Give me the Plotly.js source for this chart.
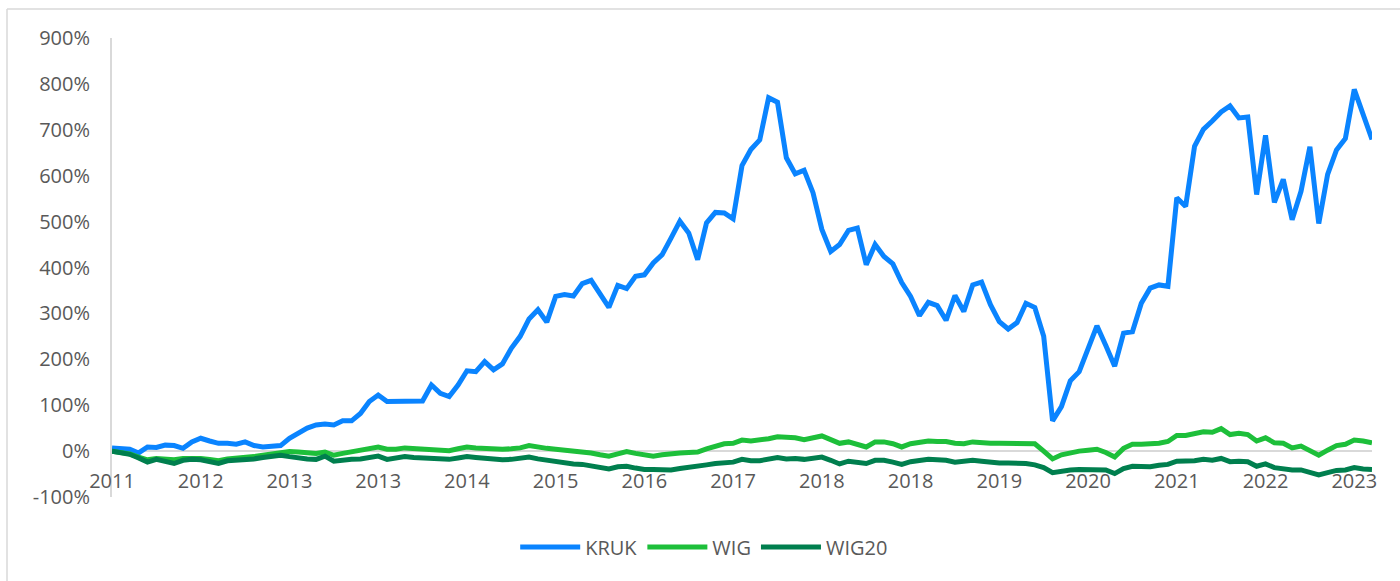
<!DOCTYPE html>
<html>
<head>
<meta charset="utf-8">
<script src="https://cdn.plot.ly/plotly-3.0.1.min.js"></script>
<style>html,body{margin:0;padding:0;background:#fff;}#chart{width:1400px;height:581px;}</style>
</head>
<body>
<div id="chart"></div>
<script>
// Monthly observations, May 2011 .. March 2023 (cumulative return, %)
const startYear = 2011, startMonth = 5, nPoints = 143;
const months = [];
for (let i = 0; i < nPoints; i++) {
  const m = startMonth - 1 + i;
  const y = startYear + Math.floor(m / 12);
  const mm = (m % 12) + 1;
  months.push(y + '-' + (mm < 10 ? '0' + mm : mm));
}

const kruk = [7,5,4,-4,9,8,13,12,6,20,28,22,17,17,15,20,12,9,11,12,
  28,39,50,57,59,57,66,66,82,108,122,108,108,108,108,109,144,126,119,144,
  175,173,195,177,190,224,250,288,308,281,337,341,338,365,372,341,313,361,354,381,
  384,410,428,464,501,475,417,497,520,519,506,622,657,678,770,760,639,604,612,563,
  483,435,450,481,486,406,450,424,408,367,337,295,324,317,285,339,304,362,368,319,
  282,266,280,322,313,250,66,97,153,173,224,273,230,185,257,260,322,355,362,359,
  552,533,664,701,719,739,752,726,728,559,688,542,592,504,566,663,496,603,656,681,
  788,734,679];

const wig = [0,-2,-6,-13,-19,-16,-18,-19,-16,-15,-16,-18,-21,-17,-16,-14,-12,-9,-6,-4,
  -1,-2,-4,-5,-2,-9,-5,-2,2,6,9,4,4,7,6,5,5,4,1,5,
  9,7,6,3,4,5,7,12,8,6,4,2,0,-1,-4,-8,-11,-6,-1,-5,
  -8,-11,-8,-5,-4,-3,-2,5,11,16,17,24,22,24,27,31,31,29,25,28,
  33,25,17,20,14,9,20,20,16,9,16,18,22,21,21,17,16,20,18,17,
  17,17,17,16,16,0,-17,-8,-3,0,2,4,-3,-13,6,15,15,15,17,21,
  34,34,37,42,41,49,36,39,36,22,29,18,17,7,11,2,-9,2,12,15,
  24,22,18];

const wig20 = [0,-3,-7,-15,-24,-18,-22,-27,-20,-18,-19,-22,-27,-21,-20,-19,-17,-14,-11,-9,
  -12,-15,-17,-18,-11,-22,-19,-18,-17,-13,-11,-18,-14,-12,-14,-15,-15,-16,-18,-15,
  -12,-14,-16,-19,-19,-18,-16,-13,-17,-20,-22,-25,-28,-29,-33,-36,-39,-34,-33,-37,
  -40,-40,-41,-41,-38,-36,-33,-30,-27,-25,-24,-18,-21,-21,-18,-14,-17,-16,-18,-16,
  -13,-20,-28,-22,-24,-27,-20,-20,-24,-29,-23,-21,-18,-19,-20,-24,-22,-20,-22,-25,
  -26,-26,-26,-27,-30,-36,-47,-43,-41,-40,-40,-39,-41,-49,-38,-33,-34,-34,-31,-29,
  -22,-22,-21,-18,-20,-16,-23,-22,-23,-33,-28,-36,-39,-41,-41,-47,-52,-47,-42,-41,
  -36,-39,-40];

const xTickLabels = ['2011','2012','2013','2013','2014','2015','2016','2017','2018','2018','2019','2020','2021','2022','2023'];
const xTickIdx = [0,10,20,30,40,50,60,70,80,90,100,110,120,130,140];
const yTickVals = [-100,0,100,200,300,400,500,600,700,800,900];
const yTickLabels = ['-100%','0%','100%','200%','300%','400%','500%','600%','700%','800%','900%'];

const seriesNames = ['KRUK','WIG','WIG20'];
const seriesColors = ['#0A84FF','#1DBF3A','#007F4E'];
const seriesData = [kruk, wig, wig20];

const traces = seriesData.map((vals, k) => ({
  type: 'scatter', mode: 'lines', name: seriesNames[k],
  x: months, y: vals,
  line: {color: seriesColors[k], width: 5, shape: 'linear'},
  hoverinfo: 'skip'
}));

const font = {family: '"Open Sans", "Liberation Sans", sans-serif', size: 20, color: '#595959'};

const layout = {
  width: 1400, height: 581,
  paper_bgcolor: '#fff', plot_bgcolor: '#fff',
  margin: {l: 112, r: 28, t: 38, b: 84},
  font: font,
  showlegend: true,
  legend: {orientation: 'h', x: 0.47, xanchor: 'center', y: -0.109, yanchor: 'middle',
           font: font, itemwidth: 60, traceorder: 'normal'},
  xaxis: {
    type: 'category', range: [0, nPoints - 1],
    anchor: 'free', position: 0.1,
    tickmode: 'array', tickvals: xTickIdx.map(i => months[i]), ticktext: xTickLabels,
    ticks: '', ticklabelstandoff: 12,
    showgrid: false, zeroline: false,
    showline: true, linecolor: '#d9d9d9', linewidth: 2,
    layer: 'below traces', tickfont: font
  },
  yaxis: {
    range: [-100, 900], tickmode: 'array', tickvals: yTickVals, ticktext: yTickLabels,
    showgrid: false, zeroline: false,
    showline: true, linecolor: '#d9d9d9', linewidth: 2,
    ticks: '', ticklabelstandoff: 16,
    layer: 'below traces', tickfont: font
  },
  shapes: [
    {type: 'line', xref: 'paper', yref: 'paper', x0: (7-112)/1260, x1: (1400-112)/1260,
     y0: (497-9)/459, y1: (497-9)/459, line: {color: '#d9d9d9', width: 1.5}},
    {type: 'line', xref: 'paper', yref: 'paper', x0: (7-112)/1260, x1: (7-112)/1260,
     y0: (497-9)/459, y1: (497-581)/459, line: {color: '#d9d9d9', width: 1.5}}
  ]
};

Plotly.newPlot('chart', traces, layout, {displayModeBar: false, staticPlot: true});
</script>
</body>
</html>
